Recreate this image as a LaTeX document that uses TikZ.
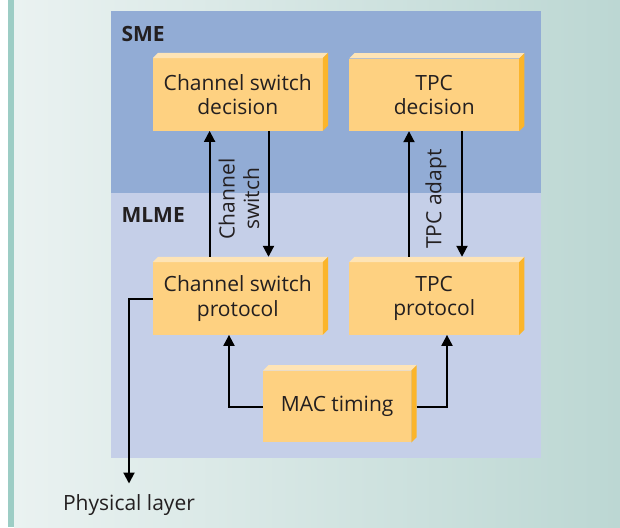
\documentclass[tikz,border=0pt]{standalone}
\usepackage{fontspec}
\setmainfont{Open Sans}
\usepackage{tikz}
\usetikzlibrary{calc}
\usetikzlibrary{arrows.meta}
\definecolor{ebf2f1}{rgb}{0.918,0.949,0.945}
\definecolor{bcd7d3}{rgb}{0.737,0.843,0.827}
\definecolor{9dcdc5}{rgb}{0.616,0.804,0.773}
\definecolor{92acd5}{rgb}{0.573,0.675,0.835}
\definecolor{c5cfe8}{rgb}{0.773,0.812,0.910}
\definecolor{fed181}{rgb}{0.996,0.820,0.506}
\definecolor{fee4b6}{rgb}{0.996,0.894,0.714}
\definecolor{fbb52b}{rgb}{0.984,0.710,0.169}
\definecolor{231f20}{rgb}{0.137,0.122,0.125}
\tikzstyle{every node}=[font=\fontsize{21}{24.6}\selectfont, text=231f20]
\tikzstyle{blk}=[fill=fed181, minimum width=169.5pt, minimum height=72.4pt, inner sep=0pt, align=center]

\begin{document}
\begin{tikzpicture}[line cap=butt,line join=miter,>={Triangle[length=11pt,width=11pt]},x=1pt,y=-1pt]
            \useasboundingbox (0,0) rectangle (620,527);
            \fill[white] (0,0) rectangle (8,527);
            \fill[9dcdc5] (8,0) rectangle (14,527);
            \shade[left color=ebf2f1,right color=bcd7d3] (14,0) rectangle (620,527);
            \fill[92acd5] (111,11) rectangle (541,193);
            \fill[c5cfe8] (111,193) rectangle (541,458);
            \node[anchor=west, font=\fontsize{21}{24}\selectfont\bfseries] (sme) at (118,34) {SME};
            \node[anchor=west, font=\fontsize{21}{24}\selectfont\bfseries] (mlme) at (118,215) {MLME};
            \node[blk] (csd) at (237.8,94.5) {Channel switch\\decision};
            \node[blk] (tpcd) at (434.2,94.8) {TPC\\decision};
            \node[blk] (csp) at (237.8,298.5) {Channel switch\\protocol};
            \node[blk] (tpcp) at (434.2,298.5) {TPC\\protocol};
            \node[blk, minimum width=147.7pt, minimum height=71.6pt] (mac) at (337.2,406.5) {MAC timing};
            \foreach \n in {csd,tpcd,csp,tpcp,mac} {
                \fill[fee4b6] (\n.north west) -- ++(5.3,-5.3) -- ($(\n.north east)+(5.3,-5.3)$) -- (\n.north east) -- cycle;
                \fill[fbb52b] (\n.north east) -- ++(5.3,-5.3) -- ($(\n.south east)+(5.3,-5.3)$) -- (\n.south east) -- cycle;
            }
            \node[rotate=90, align=center] (cslbl) at (239,199) {Channel\\switch};
            \node[rotate=90] (tpclbl) at (436,199) {TPC adapt};
            \node[anchor=base] (phy) at (129,510) {Physical layer};
            \draw [->,line width=2pt] ([xshift=-28.2pt,yshift=5.3pt]csp.north) -- ([xshift=-28.2pt]csd.south);
            \draw [->,line width=2pt] ([xshift=30.7pt]csd.south) -- ([xshift=30.7pt,yshift=5.3pt]csp.north);
            \draw [->,line width=2pt] ([xshift=-25.2pt,yshift=5.3pt]tpcp.north) -- ([xshift=-25.2pt]tpcd.south);
            \draw [->,line width=2pt] ([xshift=27.8pt]tpcd.south) -- ([xshift=27.8pt,yshift=5.3pt]tpcp.north);
            \draw [->,line width=2pt] (mac.west) -| ([xshift=-8.8pt]csp.south);
            \draw [->,line width=2pt] ([xshift=5.3pt]mac.east) -| ([xshift=12.8pt]tpcp.south);
            \draw [->,line width=2pt] (csp.west) -| ([yshift=7pt]phy.north);
\end{tikzpicture}
\end{document}
